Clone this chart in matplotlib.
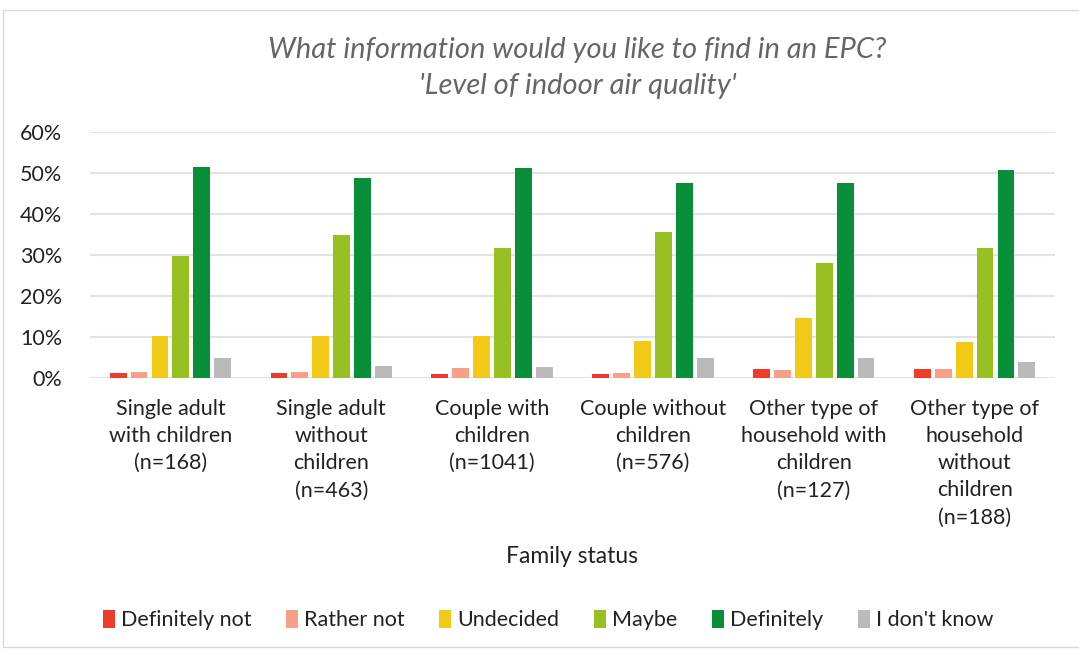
import matplotlib
matplotlib.use('Agg')
import matplotlib.pyplot as plt
import numpy as np
from matplotlib.patches import Rectangle

# ---- data ----
groups = ["Single adult\nwith children\n(n=168)",
          "Single adult\nwithout\nchildren\n(n=463)",
          "Couple with\nchildren\n(n=1041)",
          "Couple without\nchildren\n(n=576)",
          "Other type of\nhousehold with\nchildren\n(n=127)",
          "Other type of\nhousehold\nwithout\nchildren\n(n=188)"]
answers = ["Definitely not", "Rather not", "Undecided", "Maybe", "Definitely", "I don't know"]
definitely_not = [1.2, 1.2, 1.0, 1.0, 2.1, 2.2]
rather_not = [1.5, 1.5, 2.4, 1.2, 1.9, 2.1]
undecided = [10.3, 10.3, 10.3, 9.1, 14.6, 8.9]
maybe = [29.8, 34.9, 31.7, 35.6, 28.0, 31.7]
definitely = [51.5, 48.8, 51.2, 47.6, 47.6, 50.7]
dont_know = [5.0, 2.9, 2.8, 4.8, 5.0, 3.8]
colors = ['#ef3b2c', '#f6a08a', '#f2c916', '#97c123', '#098e3a', '#bababa']

series = [definitely_not, rather_not, undecided, maybe, definitely, dont_know]

plt.rcParams['font.family'] = ['Lato', 'DejaVu Sans']

fig = plt.figure(figsize=(10.79, 6.49), dpi=100)
fig.patches.append(Rectangle((3/1079, 0.003), 1.2, 1 - 10/649 - 0.003, transform=fig.transFigure,
                             fill=False, edgecolor='#d9d9d9', linewidth=1))
ax = fig.add_axes([90/1079, 1 - 378/649, (1055 - 90)/1079, (378 - 132)/649])

x = np.arange(len(groups))
step = 0.13
width = 0.105
for i, (vals, name, c) in enumerate(zip(series, answers, colors)):
    ax.bar(x + (i - 2.5) * step, vals, width, color=c, label=name, zorder=3)

ax.set_ylim(0, 60)
ax.set_xlim(-0.5, len(groups) - 0.5)
ax.set_yticks(range(0, 61, 10))
ax.set_yticklabels([f"{v}%" for v in range(0, 61, 10)], fontsize=15.5, color='#222222')
ax.set_xticks(x)
ax.set_xticklabels(groups, fontsize=15.5, color='#222222', linespacing=1.45)
ax.tick_params(length=0)
ax.tick_params(axis='y', pad=20)
ax.tick_params(axis='x', pad=15)
ax.grid(axis='y', color='#e3e3e3', linewidth=1.5, zorder=0)
for s in ax.spines.values():
    s.set_visible(False)

ax.set_xlabel("Family status", fontsize=16.5, color='#222222', labelpad=13)
fig.text(0.535, 1 - 50/649, "What information would you like to find in an EPC?",
         ha='center', va='center', fontsize=21, style='italic', color='#666666')
fig.text(0.535, 1 - 86/649, "'Level of indoor air quality'",
         ha='center', va='center', fontsize=21, style='italic', color='#666666')

fig.legend(loc='center', bbox_to_anchor=(0.508, 1 - 620/649), ncol=6, frameon=False,
           fontsize=15.5, handlelength=0.55, handleheight=0.9, handletextpad=0.3,
           columnspacing=1.6, labelcolor='#222222')

fig.savefig('out.png', dpi=100)
